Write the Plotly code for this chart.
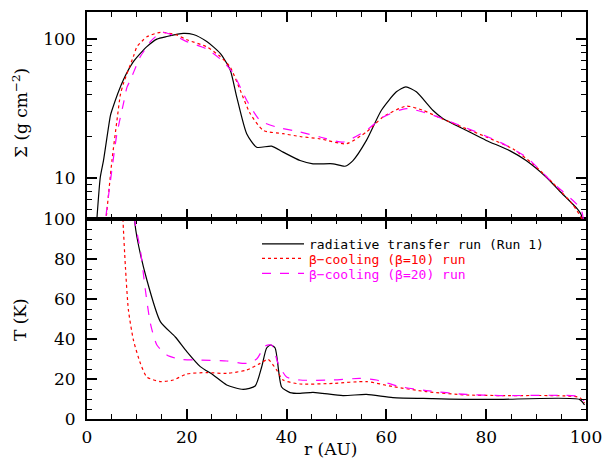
import plotly.graph_objects as go

# ---- Surface density (top panel) ----
r_sig_rt = [1.8, 2.0, 2.67, 3.3, 4.67, 5.0, 7.3, 9.3, 10.7, 12, 14, 16, 19.3, 21.3, 24, 26.7, 28.7, 30, 32, 34, 37,
            39.3, 42.7, 45.3, 49.3, 51.7, 53.3, 56, 59, 62, 63.9, 66, 69.3, 71.3, 76, 80, 84.7, 88, 92, 94.7, 98.3,
            99, 99.4]
sig_rt = [4.0, 5.2, 10.2, 13.4, 28.0, 30.8, 51.0, 68.9, 79, 88.4, 100, 104.4, 110, 108, 96, 79, 60, 38.5, 20.9, 16.7,
          17.0, 15.4, 13.4, 12.7, 12.7, 12.2, 13.4, 18.7, 30.8, 41.8, 45.4, 41.8, 30.8, 26.9, 22.1, 18.7, 15.8, 13.4,
          10.2, 8.1, 6.0, 5.5, 4.8]

r_sig_b10 = [3.5, 3.8, 5.0, 6.0, 6.7, 7.3, 9.3, 10.0, 11.3, 12, 14.7, 18, 20, 24, 26.7, 28.7, 30.7, 32.7, 35.3, 39.3,
             42.7, 46.7, 52, 56, 59.3, 64, 67.3, 71, 76, 80, 85.3, 89.3, 93.3, 97.3, 99.3, 99.6]
sig_b10 = [4.0, 5.0, 13.4, 26.0, 40.0, 48.0, 75.0, 88.0, 99.0, 104, 112, 107, 99, 88, 75, 63, 43, 29.2, 22.1, 20.9,
           19.95, 19.2, 17.7, 21.5, 27.5, 33, 30.8, 26.9, 22.7, 19.8, 16.3, 12.7, 9.3, 6.5, 5.0, 4.5]

r_sig_b20 = [3.4, 3.7, 4.7, 6.0, 7.3, 8.0, 8.7, 10.0, 10.7, 12, 12.7, 15, 18, 20, 24, 27.3, 29.3, 32, 34.7, 38, 42.7,
             46.7, 51.3, 56, 59.3, 64, 69.3, 76, 82.7, 88, 93.3, 99, 99.6]
sig_b20 = [4.0, 5.0, 9.6, 20.9, 34.4, 45.0, 50.8, 66.0, 75.0, 88.0, 96, 112, 104, 96, 85, 69, 56.8, 36.4, 26.0, 23.3,
           21.5, 19.8, 18.2, 22.1, 27.5, 31.7, 28.4, 23.0, 18.2, 14.2, 9.3, 6.0, 4.5]

# ---- Temperature (bottom panel) ----
r_T_rt = [9.2, 9.5, 10, 12, 14.7, 17.7, 20, 22.7, 25.3, 28, 31.3, 33.7, 35, 36, 36.8, 37.7, 39, 40.7, 42.7, 45.3,
          51.3, 56, 61.3, 69.3, 76, 82.7, 98.7, 99.7]
T_rt = [110, 100, 91, 69.5, 48.7, 41, 33.7, 26.2, 22, 17, 14.8, 16.5, 26, 35.5, 37.0, 35.5, 16, 13.2, 12.8, 13.3,
        11.7, 12.3, 10.7, 10.2, 9.8, 9.8, 9.8, 7.0]

r_T_b10 = [7.0, 7.2, 7.7, 8.3, 9.3, 10.7, 12, 14.7, 17.3, 20, 24, 28, 32, 34.7, 36.3, 38, 39.3, 42.7, 49.3, 56, 61.3,
           68, 76, 82.7, 98.7, 99.7]
T_b10 = [115, 100, 76, 54.5, 39.5, 27.8, 21, 18.7, 19.5, 22.5, 23.2, 22.8, 24.5, 27.8, 29.8, 24.5, 19.5, 17.5, 17.8,
         18.7, 16.2, 13.7, 12.0, 11.7, 10.8, 8.0]

r_T_b20 = [9.3, 9.5, 10.7, 11.7, 12.7, 14, 16, 18.7, 22.7, 28, 32, 34, 35.7, 37, 38.3, 40, 42.7, 49.3, 54.7, 58,
           62.7, 68, 76, 82.7, 98.7, 99.6]
T_b20 = [110, 100, 84.5, 64.5, 47.8, 37, 32, 29.8, 29.5, 29, 27.8, 30, 36.5, 37, 27.8, 21, 19.5, 19.5, 20.3, 19.5,
         16.2, 14.2, 12.3, 11.7, 11.2, 9.0]

names = ['radiative transfer run (Run 1)',
         'β−cooling (β=10) run',
         'β−cooling (β=20) run']
colors = ['#000000', '#ff0000', '#ff00ff']
dashes = ['solid', 'dot', 'dash']
legend_ids = ['legend', 'legend2', 'legend3']

x_ticks = [0, 20, 40, 60, 80, 100]
sig_ticks = [10, 100]
sig_minor = [6, 7, 8, 9, 20, 30, 40, 50, 60, 70, 80, 90]
T_ticks = [0, 20, 40, 60, 80, 100]

fig = go.Figure()
top = [(r_sig_rt, sig_rt), (r_sig_b10, sig_b10), (r_sig_b20, sig_b20)]
bot = [(r_T_rt, T_rt), (r_T_b10, T_b10), (r_T_b20, T_b20)]
for i in range(3):
    fig.add_trace(go.Scatter(x=top[i][0], y=top[i][1], mode='lines', xaxis='x2', yaxis='y2',
                             line=dict(color=colors[i], dash=dashes[i], width=1.2, shape='spline', smoothing=0.6),
                             showlegend=False, hoverinfo='skip'))
for i in range(3):
    fig.add_trace(go.Scatter(x=bot[i][0], y=bot[i][1], mode='lines', xaxis='x', yaxis='y', name=names[i],
                             legend=legend_ids[i], hoverinfo='skip',
                             line=dict(color=colors[i], dash=dashes[i], width=1.2, shape='spline', smoothing=0.6)))

font = dict(family='DejaVu Serif', size=17, color='black')
axcommon = dict(showline=True, linecolor='black', linewidth=2, mirror='ticks', ticks='inside',
                tickcolor='black', tickwidth=1.5, showgrid=False, zeroline=False, tickfont=font,
                automargin=False)

H = 407.0  # plot area height in px
W = 499.0  # plot area width in px


def py(px):
    return (419 - px) / H


def px_(x):
    return (x - 87) / W


leg_rows = [244, 258.5, 273.5]
legend_kwargs = {}
for i, lid in enumerate(legend_ids):
    legend_kwargs[lid] = dict(x=px_(257), y=py(leg_rows[i]), xanchor='left', yanchor='middle',
                              bgcolor='rgba(0,0,0,0)', borderwidth=0,
                              font=dict(family='DejaVu Sans Mono', size=13, color=colors[i]),
                              itemwidth=42, itemclick=False, itemdoubleclick=False)

fig.update_layout(
    width=603, height=459,
    margin=dict(l=87, r=17, t=12, b=40),
    paper_bgcolor='white', plot_bgcolor='white',
    font=font,
    showlegend=True,
    hovermode=False,
    **legend_kwargs,
    xaxis=dict(range=[0, 100], domain=[0, 1], anchor='y', tickvals=x_ticks, ticklen=10,
               ticklabelstandoff=2,
               minor=dict(dtick=5, ticklen=5, ticks='inside', tickcolor='black', tickwidth=1),
               **axcommon),
    yaxis=dict(range=[0, 100], domain=[0, 0.4914], anchor='x', tickvals=T_ticks, ticklen=10,
               ticklabelstandoff=6,
               minor=dict(dtick=5, ticklen=5, ticks='inside', tickcolor='black', tickwidth=1),
               **axcommon),
    xaxis2=dict(range=[0, 100], domain=[0, 1], anchor='y2', tickvals=x_ticks, ticklen=10, showticklabels=False,
                minor=dict(dtick=5, ticklen=5, ticks='inside', tickcolor='black', tickwidth=1),
                matches='x', **axcommon),
    yaxis2=dict(type='log', range=[0.707, 2.195], domain=[0.4914, 1], anchor='x2', tickvals=sig_ticks,
                ticktext=['10', '100'], ticklen=10, ticklabelstandoff=6,
                minor=dict(tickvals=sig_minor, ticklen=5, ticks='inside', tickcolor='black', tickwidth=1),
                **axcommon),
    annotations=[
        dict(text='Σ (g cm<sup>−2</sup>)', xref='paper', yref='paper', x=px_(20), y=py(113),
             xanchor='center', yanchor='middle', textangle=-90, showarrow=False, font=font),
        dict(text='T (K)', xref='paper', yref='paper', x=px_(20), y=py(320),
             xanchor='center', yanchor='middle', textangle=-90, showarrow=False, font=font),
        dict(text='r (AU)', xref='paper', yref='paper', x=px_(330), y=py(449),
             xanchor='center', yanchor='middle', showarrow=False, font=font),
    ],
)

fig.write_html('out.html', config={'displayModeBar': False},
               post_script="document.body.style.margin='0';document.body.style.padding='0';"
                           "document.documentElement.style.overflow='hidden';")
